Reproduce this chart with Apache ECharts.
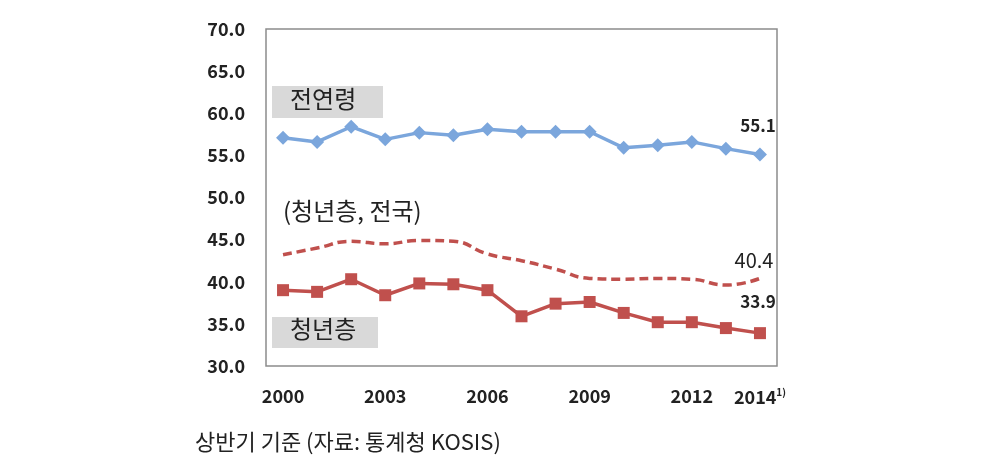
<!DOCTYPE html>
<html>
<head>
<meta charset="utf-8">
<script src="https://cdn.jsdelivr.net/npm/echarts@6/dist/echarts.min.js"></script>
<style>
  html, body { margin: 0; padding: 0; background: #fff; }
  #chart { width: 996px; height: 463px; }
</style>
</head>
<body>
<div id="chart"></div>
<script>
const years = ['2000', '2001', '2002', '2003', '2004', '2005', '2006', '2007',
  '2008', '2009', '2010', '2011', '2012', '2013', '2014']
const allAges = [57.1, 56.6, 58.4, 56.9, 57.7, 57.4, 58.1, 57.8, 57.8, 57.8, 55.9, 56.2, 56.6, 55.8, 55.1]
const youthNational = [43.2, 44.0, 44.8, 44.5, 44.9, 44.8, 43.3, 42.5, 41.5, 40.4, 40.3, 40.4, 40.3, 39.6, 40.4]
const youth = [39.0, 38.8, 40.3, 38.4, 39.8, 39.7, 39.0, 35.9, 37.4, 37.6, 36.3, 35.2, 35.2, 34.5, 33.9]
const yMin = 30
const yMax = 70
const yStep = 5

const FONT = '"Noto Sans CJK KR", "Noto Sans", sans-serif'
const BLUE = '#7ba6dc'
const RED = '#c0504d'

const chart = echarts.init(document.getElementById('chart'))

// put a label on the last point only
function lastLabel(arr, label) {
  return arr.map((v, i) => i === arr.length - 1 ? { value: v, label } : v)
}

chart.setOption({
  animation: false,
  textStyle: { fontFamily: FONT },
  grid: {
    left: 266, top: 29, width: 511, height: 337,
    show: true, borderColor: '#8c8c8c', borderWidth: 1.5, backgroundColor: 'transparent',
  },
  xAxis: {
    type: 'category',
    data: years,
    boundaryGap: true,
    axisLine: { show: false },
    axisTick: { show: false },
    axisLabel: {
      interval: 0,
      margin: 21,
      color: '#222',
      fontSize: 18,
      fontWeight: 'bold',
      fontFamily: FONT,
      formatter: (v, i) => {
        if (i === years.length - 1) return v + '{sup|1)}'
        return i % 3 === 0 ? v : ''
      },
      rich: { sup: { fontSize: 10, verticalAlign: 'top', padding: [0, 0, 10, 0], color: '#222' } },
    },
  },
  yAxis: {
    type: 'value',
    min: yMin,
    max: yMax,
    interval: yStep,
    axisLine: { show: false },
    axisTick: { show: false },
    splitLine: { show: false },
    axisLabel: {
      margin: 21,
      color: '#222',
      fontSize: 18,
      fontWeight: 'bold',
      fontFamily: FONT,
      formatter: v => v.toFixed(1),
    },
  },
  graphic: [
    { type: 'rect', left: 272, top: 86, shape: { width: 111, height: 32 }, style: { fill: '#d9d9d9' } },
    { type: 'text', left: 290, top: 87, style: { text: '전연령', font: '24px "Noto Sans CJK KR"', fill: '#222' } },
    { type: 'rect', left: 272, top: 317, shape: { width: 106, height: 31 }, style: { fill: '#d9d9d9' } },
    { type: 'text', left: 290, top: 317, style: { text: '청년층', font: '24px "Noto Sans CJK KR"', fill: '#222' } },
    { type: 'text', left: 283, top: 199, style: { text: '(청년층, 전국)', font: '24px "Noto Sans CJK KR"', fill: '#222' } },
    { type: 'text', left: 195, top: 431, style: { text: '상반기 기준 (자료: 통계청 KOSIS)', font: '22px "Noto Sans CJK KR"', fill: '#222' } },
  ],
  series: [
    {
      name: '전연령',
      type: 'line',
      data: lastLabel(allAges, {
        show: true, position: 'top', offset: [-2, -8], fontSize: 17, fontWeight: 'bold', color: '#222',
      }),
      symbol: 'diamond',
      symbolSize: 14,
      lineStyle: { color: BLUE, width: 3.5 },
      itemStyle: { color: BLUE },
    },
    {
      name: '청년층, 전국',
      type: 'line',
      data: lastLabel(youthNational, {
        show: true, position: 'top', offset: [-6, -3], fontSize: 20, color: '#222',
      }),
      smooth: true,
      symbol: 'circle',
      symbolSize: 0,
      lineStyle: { color: RED, width: 3.5, type: [9, 5] },
      itemStyle: { color: RED },
    },
    {
      name: '청년층',
      type: 'line',
      data: lastLabel(youth, {
        show: true, position: 'top', offset: [-2, -12], fontSize: 17, fontWeight: 'bold', color: '#222',
      }),
      symbol: 'rect',
      symbolSize: 12,
      lineStyle: { color: RED, width: 3.5 },
      itemStyle: { color: RED },
    },
  ],
})
</script>
</body>
</html>
